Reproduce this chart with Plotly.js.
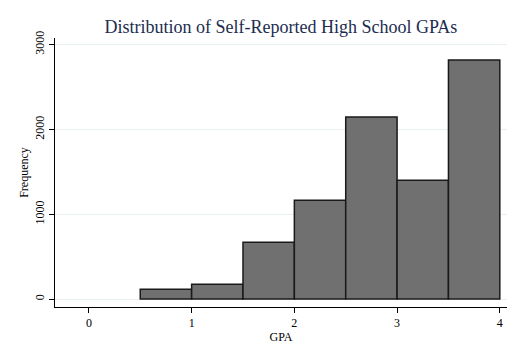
<!DOCTYPE html>
<html>
<head>
<meta charset="utf-8">
<script src="https://cdn.plot.ly/plotly-3.0.1.min.js"></script>
<style>html,body{margin:0;padding:0;background:#fff;}#chart{width:525px;height:359px;}</style>
</head>
<body>
<div id="chart"></div>
<script>
// Histogram bins (GPA) and frequencies
var binCenters = [0.75, 1.25, 1.75, 2.25, 2.75, 3.25, 3.75];
var frequency = [115, 174, 669, 1165, 2145, 1401, 2820];
var xTickVals = [0, 1, 2, 3, 4];
var yTickVals = [0, 1000, 2000, 3000];

var trace = {
  type: 'bar',
  x: binCenters,
  y: frequency,
  width: 0.5,
  marker: {color: '#707070', line: {color: '#1a1a1a', width: 1.5}},
  hoverinfo: 'x+y'
};

var font = {family: '"Liberation Serif", "Times New Roman", serif', color: '#000', size: 12};

var layout = {
  width: 525, height: 359,
  margin: {l: 55, r: 18, t: 38, b: 52},
  paper_bgcolor: '#ffffff',
  plot_bgcolor: '#ffffff',
  font: font,
  showlegend: false,
  bargap: 0,
  title: {
    text: 'Distribution of Self-Reported High School GPAs',
    font: {family: '"Liberation Serif", "Times New Roman", serif', size: 18, color: '#1c2d4f'},
    x: 0.535, xanchor: 'center', y: 0.925, yanchor: 'middle'
  },
  xaxis: {
    range: [-0.33, 4.07],
    tickvals: xTickVals,
    ticks: 'outside', ticklen: 5, tickcolor: '#000', tickwidth: 1,
    showline: true, linecolor: '#000', linewidth: 1,
    showgrid: false, zeroline: false,
    tickfont: font,
    title: {text: 'GPA', font: font, standoff: 1}
  },
  yaxis: {
    range: [-94, 3078],
    tickvals: yTickVals,
    tickangle: -90,
    ticks: 'outside', ticklen: 5, tickcolor: '#000', tickwidth: 1,
    showline: true, linecolor: '#000', linewidth: 1,
    showgrid: true, gridcolor: '#e8f0f1', gridwidth: 1,
    zeroline: false,
    tickfont: font,
    title: {text: 'Frequency', font: font, standoff: 2}
  }
};

Plotly.newPlot('chart', [trace], layout, {displayModeBar: false, staticPlot: true});
</script>
</body>
</html>
